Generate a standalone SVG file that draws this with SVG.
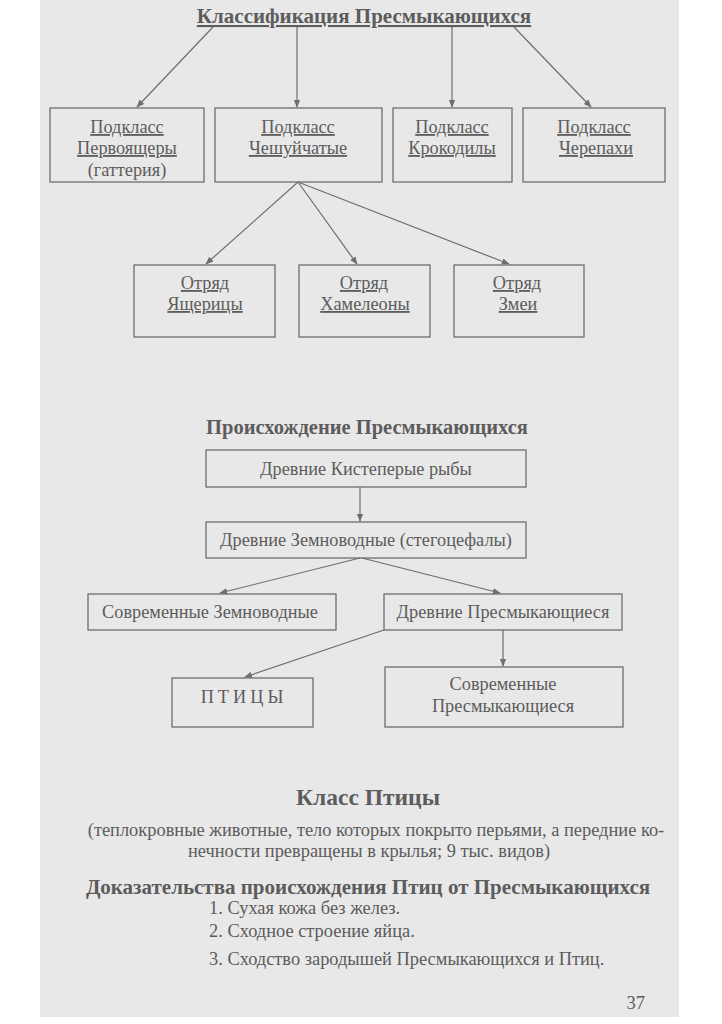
<svg xmlns="http://www.w3.org/2000/svg" width="722" height="1024" viewBox="0 0 722 1024">
<defs>
<style>
.t{font-family:"Liberation Serif","Times New Roman",serif;fill:#5c5c5c;text-anchor:middle}
.n{font-size:18.3px}
.b{font-size:18.4px}
.u{text-decoration:underline}
.h{font-weight:bold}
.s{text-anchor:start}
.box{fill:none;stroke:#6e6e6e;stroke-width:1.3}
.c line{stroke:#6e6e6e;stroke-width:1.2;marker-end:url(#ah)}
</style>
<marker id="ah" viewBox="0 0 10 10" refX="9" refY="5" markerWidth="8" markerHeight="8" markerUnits="userSpaceOnUse" orient="auto">
<path d="M0,1 L10,5 L0,9 Z" fill="#6e6e6e"/>
</marker>
</defs>
<rect x="0" y="0" width="722" height="1024" fill="#ffffff"/>
<rect x="40" y="0" width="639" height="1017" fill="#e8e8e8"/>

<text class="t h u" x="364" y="23" font-size="21">Классификация Пресмыкающихся</text>

<g id="n-pervo"><rect class="box" x="50" y="108" width="154" height="74"/>
<text class="t n u" x="127" y="133">Подкласс</text>
<text class="t n u" x="127" y="154">Первоящеры</text>
<text class="t n" x="127" y="176">(гаттерия)</text></g>
<g id="n-cheshu"><rect class="box" x="215" y="108" width="167" height="74"/>
<text class="t n u" x="298" y="133">Подкласс</text>
<text class="t n u" x="298" y="154">Чешуйчатые</text></g>
<g id="n-kroko"><rect class="box" x="393" y="108" width="119" height="74"/>
<text class="t n u" x="452" y="133">Подкласс</text>
<text class="t n u" x="452" y="154">Крокодилы</text></g>
<g id="n-cherep"><rect class="box" x="523" y="108" width="142" height="74"/>
<text class="t n u" x="594" y="133">Подкласс</text>
<text class="t n u" x="596" y="154">Черепахи</text></g>

<g id="n-yasch"><rect class="box" x="134" y="265" width="141" height="72"/>
<text class="t n u" x="205" y="289">Отряд</text>
<text class="t n u" x="205" y="310">Ящерицы</text></g>
<g id="n-hamel"><rect class="box" x="299" y="265" width="131" height="72"/>
<text class="t n u" x="364" y="289">Отряд</text>
<text class="t n u" x="365" y="310">Хамелеоны</text></g>
<g id="n-zmei"><rect class="box" x="454" y="265" width="130" height="72"/>
<text class="t n u" x="517" y="289">Отряд</text>
<text class="t n u" x="518" y="310">Змеи</text></g>

<text class="t h" x="367" y="434" font-size="20.5">Происхождение Пресмыкающихся</text>

<g id="n-kist"><rect class="box" x="206" y="450" width="320" height="37"/>
<text class="t n" x="366" y="475">Древние Кистеперые рыбы</text></g>
<g id="n-zemn"><rect class="box" x="206" y="522" width="320" height="36"/>
<text class="t n" x="366" y="546">Древние Земноводные (стегоцефалы)</text></g>
<g id="n-sovzemn"><rect class="box" x="88" y="594" width="248" height="36"/>
<text class="t n" x="210" y="618">Современные Земноводные</text></g>
<g id="n-drevpres"><rect class="box" x="384" y="594" width="238" height="36"/>
<text class="t n" x="503" y="618">Древние Пресмыкающиеся</text></g>
<g id="n-ptitsy"><rect class="box" x="172" y="678" width="141" height="49"/>
<text class="t n" x="244" y="703" letter-spacing="4">ПТИЦЫ</text></g>
<g id="n-sovpres"><rect class="box" x="385" y="667" width="238" height="60"/>
<text class="t n" x="503" y="690">Современные</text>
<text class="t n" x="503" y="712">Пресмыкающиеся</text></g>

<g id="connectors" class="c">
<line x1="213" y1="27" x2="137" y2="107"/>
<line x1="297" y1="27" x2="297" y2="107"/>
<line x1="452" y1="27" x2="452" y2="107"/>
<line x1="514" y1="27" x2="591" y2="107"/>
<line x1="298" y1="182" x2="206" y2="264"/>
<line x1="298" y1="182" x2="357" y2="264"/>
<line x1="298" y1="182" x2="509" y2="264"/>
<line x1="360" y1="487" x2="360" y2="521"/>
<line x1="360" y1="558" x2="220" y2="593"/>
<line x1="362" y1="558" x2="500" y2="593"/>
<line x1="384" y1="630" x2="245" y2="677"/>
<line x1="503" y1="630" x2="503" y2="666"/>
</g>

<text class="t h" x="368" y="805" font-size="23.5">Класс Птицы</text>
<text class="t b" x="376" y="836">(теплокровные животные, тело которых покрыто перьями, а передние ко-</text>
<text class="t b" x="369" y="857">нечности превращены в крылья; 9 тыс. видов)</text>
<text class="t h" x="368" y="894" font-size="21">Доказательства происхождения Птиц от Пресмыкающихся</text>
<text class="t b s" x="209" y="914">1. Сухая кожа без желез.</text>
<text class="t b s" x="209" y="937">2. Сходное строение яйца.</text>
<text class="t b s" x="209" y="965">3. Сходство зародышей Пресмыкающихся и Птиц.</text>
<text class="t" x="645" y="1009" font-size="18.5" style="text-anchor:end">37</text>
</svg>
